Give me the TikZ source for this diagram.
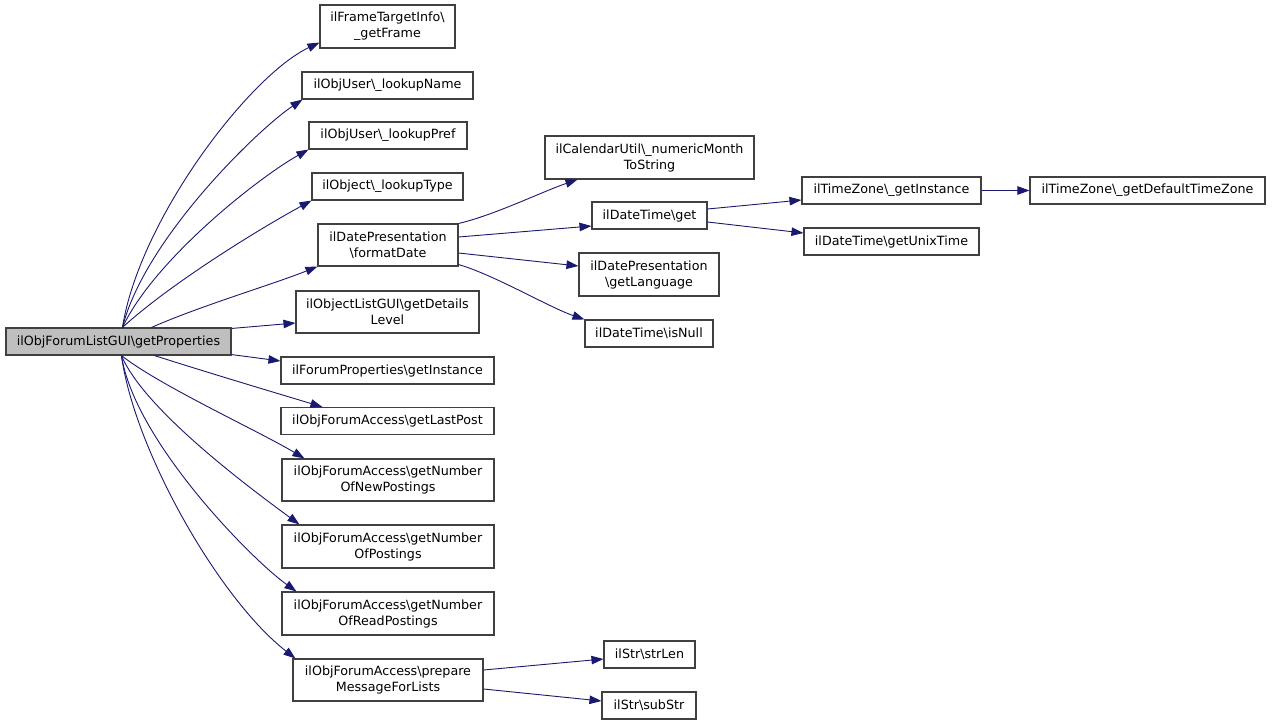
\documentclass[tikz,border=0pt]{standalone}
\usepackage{fontspec}
\setmainfont{DejaVu Sans}
\usetikzlibrary{arrows.meta}
\definecolor{edgeblue}{HTML}{191970}
\definecolor{boxline}{HTML}{404040}
\definecolor{mainfill}{HTML}{BFBFBF}
\tikzset{
  fn/.style={draw=boxline, line width=1.1pt, fill=white, inner sep=0pt, align=center,
    font=\fontsize{12.7}{16}\selectfont},
  call/.style={draw=edgeblue, line width=0.9pt, -{Triangle[length=12pt,width=8.5pt]}},
}
\newcommand{\bs}{\textbackslash}
\begin{document}
\begin{tikzpicture}[x=1pt,y=-1pt]
\useasboundingbox (0,0) rectangle (1272,724);
% nodes
\node[fn, fill=mainfill, minimum width=225pt, minimum height=27pt] (main) at (118.5,341.5) {ilObjForumListGUI\bs getProperties};
\node[fn, minimum width=135pt, minimum height=43pt] (frame) at (387.5,26.5) {ilFrameTargetInfo\bs\\\_getFrame};
\node[fn, minimum width=171pt, minimum height=27pt] (lname) at (387.5,85.5) {ilObjUser\bs\_lookupName};
\node[fn, minimum width=158pt, minimum height=27pt] (lpref) at (388,135.5) {ilObjUser\bs\_lookupPref};
\node[fn, minimum width=151pt, minimum height=27pt] (ltype) at (387.5,186.5) {ilObject\bs\_lookupType};
\node[fn, minimum width=140pt, minimum height=42pt] (fdate) at (388,245) {ilDatePresentation\\\bs formatDate};
\node[fn, minimum width=183pt, minimum height=42pt] (detl) at (387.5,312) {ilObjectListGUI\bs getDetails\\Level};
\node[fn, minimum width=213pt, minimum height=27pt] (fpi) at (387.5,370.5) {ilForumProperties\bs getInstance};
\node[fn, minimum width=213pt, minimum height=27pt] (lastp) at (387.5,421) {ilObjForumAccess\bs getLastPost};
\node[fn, minimum width=212pt, minimum height=42pt] (newp) at (388,480) {ilObjForumAccess\bs getNumber\\OfNewPostings};
\node[fn, minimum width=212pt, minimum height=43pt] (posts) at (388,546.5) {ilObjForumAccess\bs getNumber\\OfPostings};
\node[fn, minimum width=212pt, minimum height=43pt] (readp) at (388,613.5) {ilObjForumAccess\bs getNumber\\OfReadPostings};
\node[fn, minimum width=190pt, minimum height=42pt] (prep) at (388,680) {ilObjForumAccess\bs prepare\\MessageForLists};
\node[fn, minimum width=209pt, minimum height=43pt] (month) at (649.5,157.5) {ilCalendarUtil\bs\_numericMonth\\ToString};
\node[fn, minimum width=115pt, minimum height=27pt] (get) at (649.5,215.5) {ilDateTime\bs get};
\node[fn, minimum width=140pt, minimum height=43pt] (lang) at (649,274.5) {ilDatePresentation\\\bs getLanguage};
\node[fn, minimum width=128pt, minimum height=27pt] (isnull) at (649,333.5) {ilDateTime\bs isNull};
\node[fn, minimum width=179pt, minimum height=27pt] (tzinst) at (891.5,190.5) {ilTimeZone\bs\_getInstance};
\node[fn, minimum width=235pt, minimum height=27pt] (tzdef) at (1147.5,190.5) {ilTimeZone\bs\_getDefaultTimeZone};
\node[fn, minimum width=175pt, minimum height=27pt] (unix) at (891.5,241.5) {ilDateTime\bs getUnixTime};
\node[fn, minimum width=91pt, minimum height=27pt] (strlen) at (649.5,654.5) {ilStr\bs strLen};
\node[fn, minimum width=94pt, minimum height=27pt] (substr) at (649,705.5) {ilStr\bs subStr};
% edges from main (top)
\draw[call] ([xshift=117pt]main.north west) .. controls +(17,-108) and +(-70,33) .. ([yshift=6pt]frame.south west);
\draw[call] ([xshift=117pt]main.north west) .. controls +(22,-88) and +(-45,30) .. ([xshift=1pt]lname.south west);
\draw[call] ([xshift=117pt]main.north west) .. controls +(32,-68) and +(-50,28) .. (lpref.south west);
\draw[call] ([xshift=117pt]main.north west) .. controls +(47,-43) and +(-55,30) .. (ltype.south west);
\draw[call] ([xshift=146pt]main.north west) .. controls +(50,-22) and +(-45,18) .. (fdate.south west);
\draw[call] ([yshift=-1pt]main.north east) -- ([yshift=-11pt]detl.west);
\draw[call] ([yshift=1pt]main.south east) -- ([yshift=9.5pt]fpi.west);
% edges from main (bottom)
\draw[call] ([xshift=149pt]main.south west) .. controls +(50,16) and +(-50,-15) .. ([xshift=42pt]lastp.north west);
\draw[call] ([xshift=116pt]main.south west) .. controls +(38,30) and +(-45,-27) .. ([xshift=23pt]newp.north west);
\draw[call] ([xshift=116pt]main.south west) .. controls +(23,55) and +(-45,-33) .. ([xshift=18pt]posts.north west);
\draw[call] ([xshift=116pt]main.south west) .. controls +(13,85) and +(-45,-32) .. ([xshift=15pt]readp.north west);
\draw[call] ([xshift=116pt]main.south west) .. controls +(13,95) and +(-76,-59) .. ([xshift=3pt]prep.north west);
% formatDate
\draw[call] (fdate.north east) .. controls +(35,-8) and +(-35,12) .. ([xshift=33pt]month.south west);
\draw[call] ([yshift=8pt]fdate.east) -- ([yshift=-10.5pt]get.west);
\draw[call] ([yshift=-8pt]fdate.east) -- ([yshift=8.5pt]lang.west);
\draw[call] ([yshift=2pt]fdate.south east) .. controls +(35,10) and +(-35,-12) .. (isnull.north west);
% get
\draw[call] ([yshift=6.5pt]get.east) -- ([yshift=-9.5pt]tzinst.west);
\draw[call] ([yshift=-6.5pt]get.east) -- ([yshift=8.5pt]unix.west);
\draw[call] (tzinst.east) -- (tzdef.west);
% prepare
\draw[call] ([yshift=10pt]prep.east) -- ([yshift=-4.5pt]strlen.west);
\draw[call] ([yshift=-9pt]prep.east) -- ([yshift=4.5pt]substr.west);
\end{tikzpicture}
\end{document}
